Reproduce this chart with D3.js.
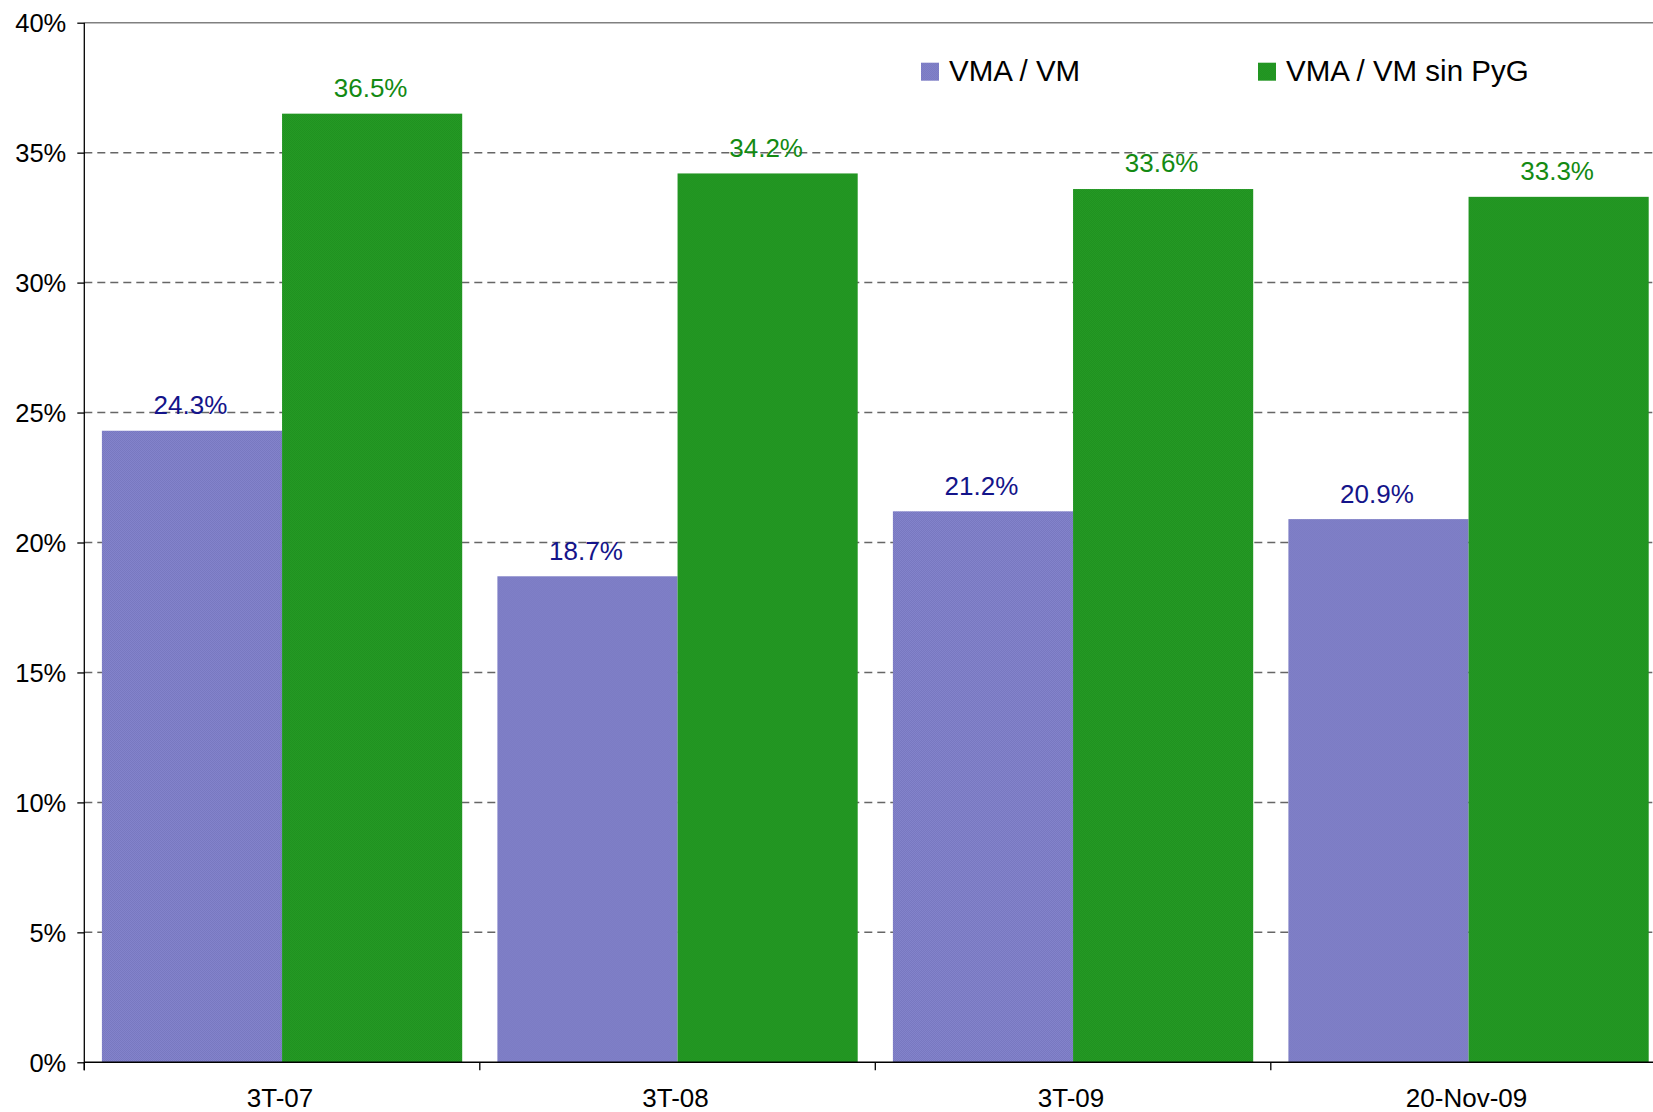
<!DOCTYPE html>
<html>
<head>
<meta charset="utf-8">
<script src="https://cdn.jsdelivr.net/npm/d3@7"></script>
<style>
  html, body { margin: 0; padding: 0; background: #fff; }
  svg { display: block; font-family: "Liberation Sans", Arial, sans-serif; }
</style>
</head>
<body>
<svg id="chart" width="1653" height="1112"></svg>
<script>
// Periods on the x axis
const categories = ["3T-07", "3T-08", "3T-09", "20-Nov-09"];
// Series names as shown in the legend
const seriesNames = ["VMA / VM", "VMA / VM sin PyG"];
// Ratios in percent
const vmaVm = [24.3, 18.7, 21.2, 20.9];
const vmaVmSinPyG = [36.5, 34.2, 33.6, 33.3];
// Y axis ticks (percent)
const yTicks = [0, 5, 10, 15, 20, 25, 30, 35, 40];

const seriesValues = [vmaVm, vmaVmSinPyG];
const fills = ["url(#texBlue)", "url(#texGreen)"];
const labelColors = ["#14148a", "#138a13"];
const legendFills = ["url(#texBlue)", "url(#texGreen)"];

const svg = d3.select("#chart");
const W = 1653, H = 1112;
const plot = { left: 84.3, top: 22.7, bottom: 1062.3, right: 1666.3 };

// Fine dithered textures for the bars
const defs = svg.append("defs");
function texture(id, a, b) {
  const p = defs.append("pattern").attr("id", id)
    .attr("patternUnits", "userSpaceOnUse").attr("width", 2).attr("height", 2);
  p.append("rect").attr("width", 2).attr("height", 2).attr("fill", a);
  p.append("rect").attr("width", 1).attr("height", 1).attr("fill", b);
  p.append("rect").attr("x", 1).attr("y", 1).attr("width", 1).attr("height", 1).attr("fill", b);
}
texture("texBlue", "#8585cc", "#7676bf");
texture("texGreen", "#259b25", "#1f901f");

const y = d3.scaleLinear().domain([0, 40]).range([plot.bottom, plot.top]);
const x0 = d3.scaleBand().domain(categories)
  .range([plot.left, plot.right])
  .paddingInner(0.089).paddingOuter(0.0445);
const x1 = d3.scaleBand().domain(d3.range(seriesNames.length))
  .range([0, x0.bandwidth()]).padding(0);

// Dashed horizontal gridlines
svg.append("g").selectAll("line")
  .data(yTicks.filter(t => t > 0 && t < 40))
  .join("line")
  .attr("x1", plot.left).attr("x2", W)
  .attr("y1", d => y(d)).attr("y2", d => y(d))
  .attr("stroke", "#666").attr("stroke-width", 1.5)
  .attr("stroke-dasharray", "8,5");

// Solid top border of the plot
svg.append("line")
  .attr("x1", plot.left).attr("x2", W)
  .attr("y1", y(40)).attr("y2", y(40))
  .attr("stroke", "#808080").attr("stroke-width", 1.6);

// Bars
const groups = svg.append("g").selectAll("g")
  .data(categories)
  .join("g")
  .attr("transform", d => `translate(${x0(d)},0)`);

groups.selectAll("rect")
  .data((d, i) => seriesValues.map((s, k) => ({ k, v: s[i] })))
  .join("rect")
  .attr("x", d => x1(d.k))
  .attr("width", x1.bandwidth())
  .attr("y", d => y(d.v))
  .attr("height", d => y(0) - y(d.v))
  .attr("fill", d => fills[d.k]);

// Value labels
groups.selectAll("text")
  .data((d, i) => seriesValues.map((s, k) => ({ k, v: s[i] })))
  .join("text")
  .attr("x", d => x1(d.k) + x1.bandwidth() / 2 - 1.5)
  .attr("y", d => y(d.v) - 16.6)
  .attr("text-anchor", "middle")
  .attr("font-size", 26)
  .attr("fill", d => labelColors[d.k])
  .text(d => d.v.toFixed(1) + "%");

// Y axis
const yAxis = d3.axisLeft(y)
  .tickValues(yTicks)
  .tickFormat(d => d + "%")
  .tickSize(7)
  .tickPadding(11);
const gy = svg.append("g").attr("transform", `translate(${plot.left},0)`).call(yAxis);
gy.select(".domain").attr("stroke", "#000").attr("stroke-width", 1.3)
  .attr("d", `M0,${y(40)}V${y(0) + 8}`);
gy.selectAll(".tick line").attr("stroke", "#000").attr("stroke-width", 1.3);
gy.selectAll(".tick text")
  .attr("font-size", 25.5)
  .attr("font-family", "Liberation Sans, Arial, sans-serif")
  .attr("fill", "#000")
  .attr("dy", "0.36em");

// X axis: baseline, boundary ticks and category labels
svg.append("line")
  .attr("x1", plot.left).attr("x2", W)
  .attr("y1", y(0)).attr("y2", y(0))
  .attr("stroke", "#000").attr("stroke-width", 1.5);

const step = x0.step();
svg.append("g").selectAll("line")
  .data(d3.range(categories.length + 1))
  .join("line")
  .attr("x1", i => plot.left + i * step).attr("x2", i => plot.left + i * step)
  .attr("y1", y(0)).attr("y2", y(0) + 8)
  .attr("stroke", "#000").attr("stroke-width", 1.3);

svg.append("g").selectAll("text")
  .data(categories)
  .join("text")
  .attr("x", d => x0(d) + x0.bandwidth() / 2 - 2)
  .attr("y", 1107)
  .attr("text-anchor", "middle")
  .attr("font-size", 26)
  .attr("fill", "#000")
  .text(d => d);

// Legend
const legendX = [921, 1258];
const lg = svg.append("g").selectAll("g")
  .data(seriesNames)
  .join("g")
  .attr("transform", (d, i) => `translate(${legendX[i]},62.7)`);
lg.append("rect")
  .attr("width", 18).attr("height", 18)
  .attr("fill", (d, i) => legendFills[i]);
lg.append("text")
  .attr("x", 28).attr("y", 18)
  .attr("font-size", 29.5)
  .attr("fill", "#000")
  .text(d => d);
</script>
</body>
</html>
